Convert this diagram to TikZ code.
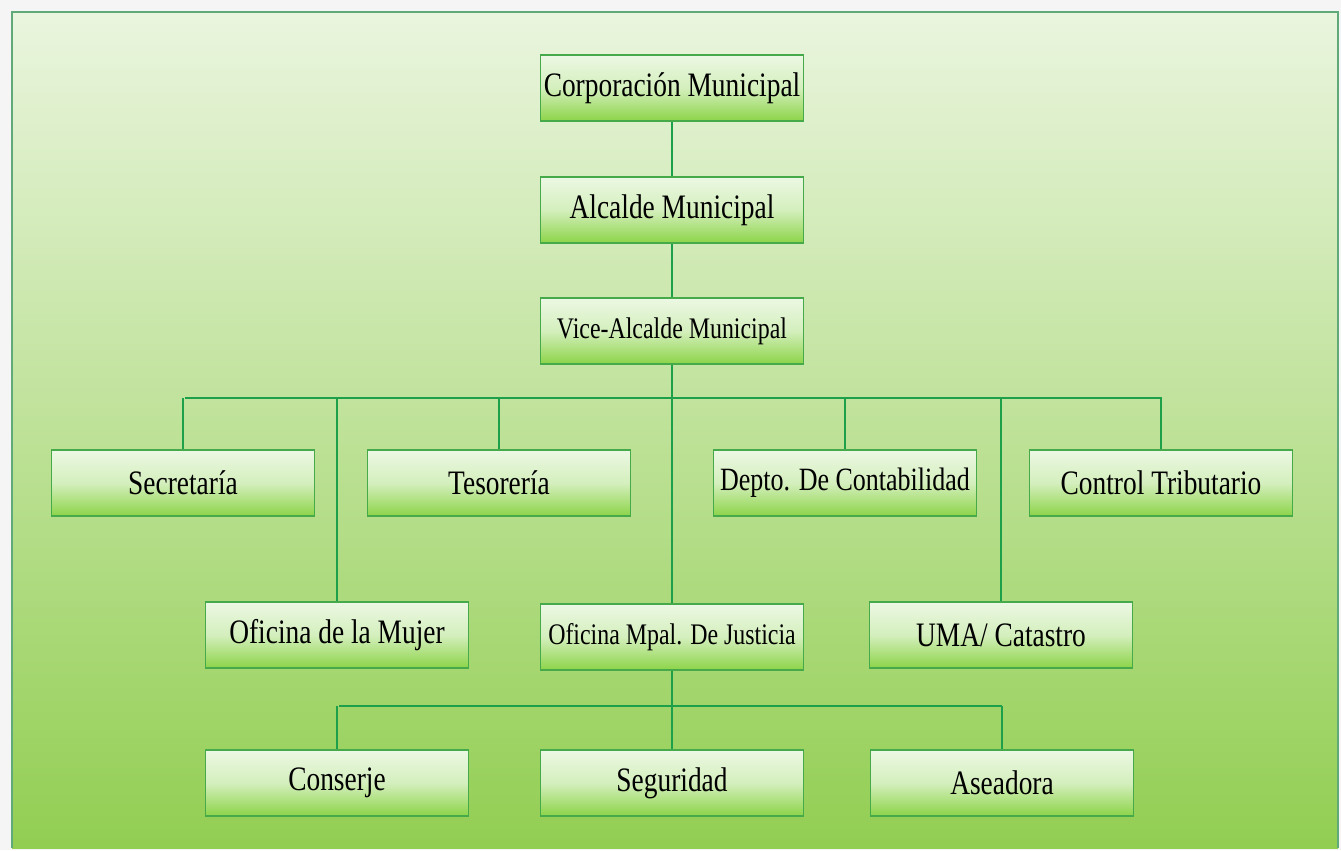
\documentclass[tikz,border=0pt]{standalone}
\usepackage{fontspec}
\setmainfont{Liberation Serif}
\usepackage{graphicx}
\usepackage{tikz}
\usetikzlibrary{positioning}
\definecolor{frameline}{RGB}{95, 170, 120}
\definecolor{bgtop}{RGB}{234, 245, 222}
\definecolor{bgbot}{RGB}{146, 206, 82}
\definecolor{boxtop}{RGB}{236, 248, 228}
\definecolor{boxbot}{RGB}{140, 212, 72}
\definecolor{boxline}{RGB}{70, 170, 75}
\definecolor{wire}{RGB}{30, 160, 75}

% narrow text, as in the boxes
\newcommand{\narrow}[1]{\scalebox{0.8}[1]{#1}}

\tikzset{
  unit/.style={draw=boxline, line width=0.8pt, top color=boxtop, bottom color=boxbot,
    middle color=boxtop!75!boxbot, minimum width=5.26cm, minimum height=1.32cm,
    inner sep=1pt, font=\fontsize{19.5}{23}\selectfont},
  smallunit/.style={unit, font=\fontsize{17}{20}\selectfont},
  link/.style={draw=wire, line width=1.6pt}
}

\begin{document}
\begin{tikzpicture}[x=0.02cm, y=-0.02cm]
  % background
  \fill[gray!8] (0,0) rectangle (1341,850);
  \shade[top color=bgtop, bottom color=bgbot] (12,12) rectangle (1338,848);
  \draw[frameline, line width=1pt] (12,848) -- (12,12) -- (1338,12) -- (1338,848);
  \useasboundingbox (0,0) rectangle (1341,850);

  % top chain
  \node[unit] (corp) at (672,88) {\narrow{Corporación Municipal}};
  \node[unit] (alc) at (672,210) {\narrow{Alcalde Municipal}};
  \node[smallunit] (vice) at (672,331) {\narrow{Vice-Alcalde Municipal}};

  % second row
  \node[unit] (sec) at (183,483) {\narrow{Secretaría}};
  \node[unit] (tes) at (499,483) {\narrow{Tesorería}};
  \node[unit, font=\fontsize{18.5}{22}\selectfont] (dep) at (845,483) {\narrow{Depto. De Contabilidad}};
  \node[unit] (ctr) at (1161,483) {\narrow{Control Tributario}};

  % third row
  \node[unit] (muj) at (337,635) {\narrow{Oficina de la Mujer}};
  \node[smallunit] (jus) at (672,637) {\narrow{Oficina Mpal. De Justicia}};
  \node[unit] (uma) at (1001,635) {\narrow{UMA/ Catastro}};

  % fourth row
  \node[unit] (con) at (337,783) {\narrow{Conserje}};
  \node[unit] (seg) at (672,783) {\narrow{Seguridad}};
  \node[unit] (ase) at (1002,783) {\narrow{Aseadora}};

  % connectors
  \coordinate (busA) at (185,398);
  \coordinate (busB) at (1162,398);
  \coordinate (busC) at (339,706);
  \coordinate (busD) at (1002,706);

  \draw[link] (corp) -- (alc);
  \draw[link] (alc) -- (vice);
  \draw[link] (vice) -- (jus);
  \draw[link] (busA) -- (busB);
  \foreach \n in {sec, tes, dep, ctr, muj, uma}
    \draw[link] (\n.north) -- (\n.north |- busA);

  \draw[link] (jus) -- (seg);
  \draw[link] (busC) -- (busD);
  \foreach \n in {con, ase}
    \draw[link] (\n.north) -- (\n.north |- busC);
\end{tikzpicture}
\end{document}
